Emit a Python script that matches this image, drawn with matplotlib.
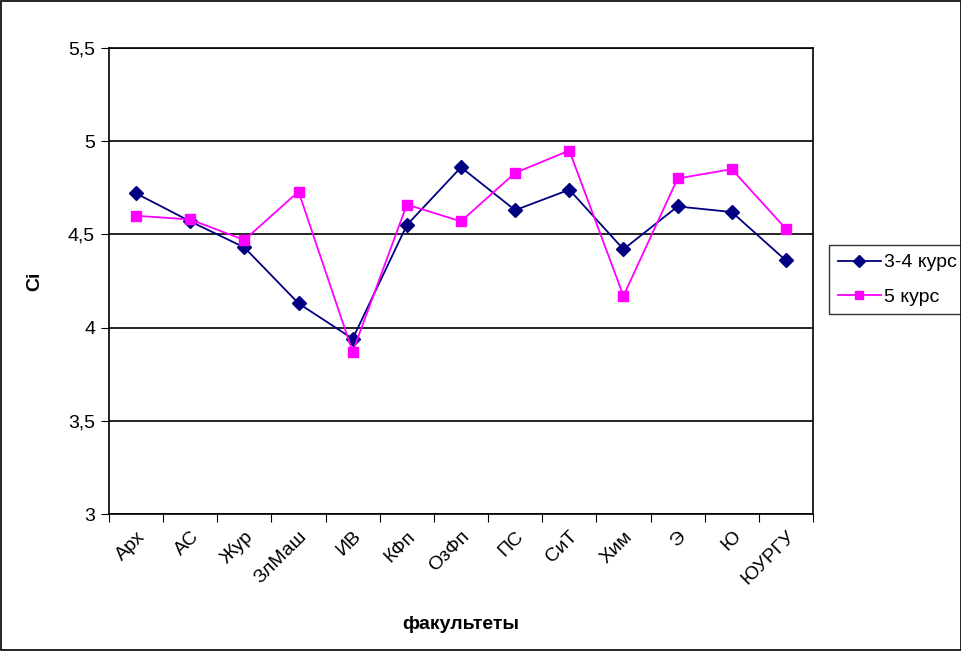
import matplotlib
matplotlib.use("Agg")
import matplotlib.pyplot as plt
import numpy as np
from matplotlib.ticker import FuncFormatter

plt.rcParams['font.family'] = ['Liberation Sans', 'DejaVu Sans']

categories = ["Арх", "АС", "Жур", "ЗлМаш", "ИВ", "КФп", "ОзФп", "ПС", "СиТ", "Хим", "Э", "Ю", "ЮУРГУ"]
kurs34 = [4.72, 4.57, 4.43, 4.13, 3.94, 4.55, 4.86, 4.63, 4.74, 4.42, 4.65, 4.62, 4.36]
kurs5 = [4.60, 4.58, 4.47, 4.73, 3.87, 4.66, 4.57, 4.83, 4.95, 4.17, 4.80, 4.85, 4.53]
yticks = [3, 3.5, 4, 4.5, 5, 5.5]

fig = plt.figure(figsize=(9.62, 6.51), dpi=100)
ax = fig.add_axes([109/962, 1-514/651, (813-109)/962, (514-48)/651])

x = np.arange(len(categories))
ax.plot(x, kurs34, color='#000080', marker='D', markersize=7, linewidth=1.3, label='3-4 курс', zorder=3)
ax.plot(x, kurs5, color='#FF00FF', marker='s', markersize=7, linewidth=1.3, label='5 курс', zorder=3)

ax.set_xlim(-0.5, len(categories)-0.5)
ax.set_ylim(3, 5.5)
ax.set_yticks(yticks)
ax.yaxis.set_major_formatter(FuncFormatter(lambda v, p: ('%g' % v).replace('.', ',')))
ax.set_xticks(np.arange(-0.5, len(categories)), labels=[''] * (len(categories)+1))
ax.set_xticks(x, minor=True)
ax.set_xticklabels(categories, minor=True, rotation=45, ha='right', rotation_mode='anchor')
ax.tick_params(axis='x', which='minor', length=0, pad=10, labelsize=14)
ax.tick_params(axis='x', which='major', length=6, direction='out', color='black')
ax.tick_params(axis='y', length=6, direction='out', labelsize=14, pad=4)
ax.grid(axis='y', color='black', linewidth=1.2)
for s in ax.spines.values():
    s.set_color('black')
    s.set_linewidth(1.2)

ax.set_ylabel('Ci', fontsize=14, fontweight='bold', labelpad=18)
ax.set_xlabel('факультеты', fontsize=14, fontweight='bold', labelpad=20)

leg = ax.legend(loc='upper left', bbox_to_anchor=(829/962, 1-245/651), bbox_transform=fig.transFigure,
                fancybox=False, frameon=True, edgecolor='black', fontsize=14, borderaxespad=0,
                handlelength=2.2, borderpad=0.45, labelspacing=0.85, handletextpad=0.2)
leg.get_frame().set_linewidth(1.0)
for h in leg.legend_handles:
    h.set_markersize(6)

border = plt.Rectangle((0.001, 0.001), 0.998, 0.997, transform=fig.transFigure, fill=False,
                       edgecolor='black', linewidth=1.2)
fig.patches.append(border)

fig.savefig('out.png', dpi=100)
